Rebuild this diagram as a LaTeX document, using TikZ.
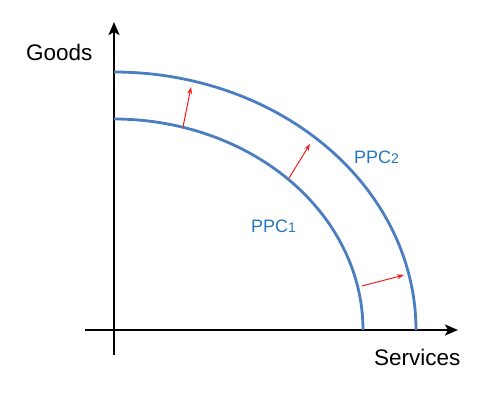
\documentclass[tikz,border=0pt]{standalone}
\usepackage{fontspec}
\setmainfont{Liberation Sans}
\usetikzlibrary{arrows.meta}
\definecolor{curveblue}{RGB}{74,126,193}
\definecolor{textblue}{RGB}{38,118,192}
\definecolor{arrred}{RGB}{240,30,30}
\tikzset{
  axis/.style={line width=2.4pt, black, -{Stealth[length=13pt,width=11pt,inset=3pt]}},
  ppc/.style={line width=2.8pt, curveblue},
  shift arrow/.style={line width=1pt, arrred, -{Stealth[length=7pt,width=5pt]}},
  axlabel/.style={inner sep=0pt, anchor=base west, font=\fontsize{22.5}{26}\selectfont},
  ppclabel/.style={inner sep=0pt, anchor=base west, text=textblue, font=\fontsize{18}{22}\selectfont}
}
\newcommand{\smalldigit}[1]{{\fontsize{14}{16}\selectfont #1}}
\begin{document}
\begin{tikzpicture}[x=1pt,y=-1pt]
\useasboundingbox (0,0) rectangle (481,404);
% axes
\coordinate (ybot) at (114,355);
\coordinate (ytop) at (114,22);
\coordinate (xleft) at (85,330);
\coordinate (xright) at (458,330);
\draw[axis] (ybot) -- (ytop);
\draw[axis] (xleft) -- (xright);
% curves
\draw[ppc] plot[domain=0:90, samples=80, smooth] ({114+249*cos(\x)},{330-211*sin(\x)});
\draw[ppc] plot[domain=0:90, samples=80, smooth] ({114+302*cos(\x)},{330-258*sin(\x)});
% shift arrows
\coordinate (a1) at (183,127);
\coordinate (b1) at (191,87);
\coordinate (a2) at (289,178);
\coordinate (b2) at (310,144);
\coordinate (a3) at (362,286);
\coordinate (b3) at (404,275);
\draw[shift arrow] (a1) -- (b1);
\draw[shift arrow] (a2) -- (b2);
\draw[shift arrow] (a3) -- (b3);
% labels
\node[axlabel] (goods) at (26,60) {Goods};
\node[axlabel] (services) at (374,365) {Services};
\node[ppclabel] (ppc1) at (251,232) {PPC\smalldigit{1}};
\node[ppclabel] (ppc2) at (354,163) {PPC\smalldigit{2}};
\end{tikzpicture}
\end{document}
